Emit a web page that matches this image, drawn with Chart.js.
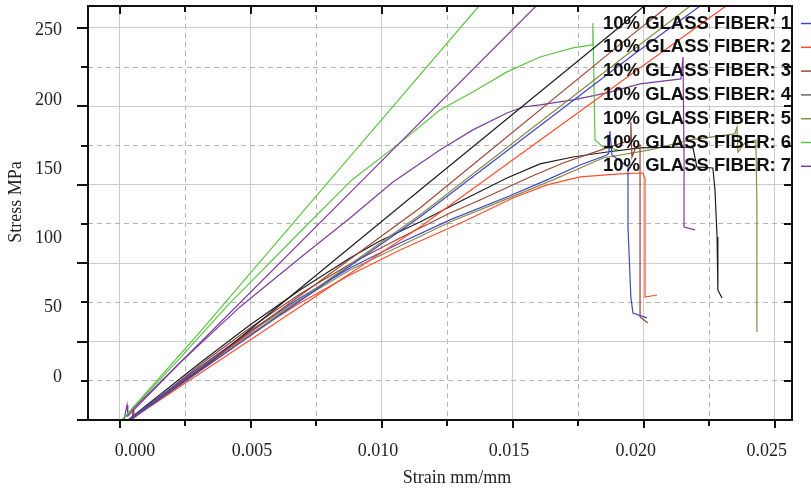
<!DOCTYPE html>
<html>
<head>
<meta charset="utf-8">
<script src="https://cdn.jsdelivr.net/npm/chart.js@4.4.1/dist/chart.umd.min.js"></script>
<style>
  html, body { margin: 0; padding: 0; background: #fff; }
  #wrap { width: 811px; height: 492px; }
</style>
</head>
<body>
<div id="wrap"><canvas id="chart" width="811" height="492"></canvas></div>
<script>
'use strict';

let seriesNames = [
  '10% GLASS FIBER: 1', '10% GLASS FIBER: 2', '10% GLASS FIBER: 3', '10% GLASS FIBER: 4',
  '10% GLASS FIBER: 5', '10% GLASS FIBER: 6', '10% GLASS FIBER: 7'
];
let seriesColors = ['#3c48c8', '#ff4d2e', '#9a4636', '#1e1e1e', '#8a8a44', '#5cc444', '#7e3c9e'];
let legendColors = ['#3c48c8', '#ff4d2e', '#9a4636', '#666666', '#8a8a44', '#5cc444', '#7e3c9e'];

// measured curves, [strain, stress]
let curve1 = [[0.00031,0],[0.00305,33.8],[0.00496,56.8],[0.00687,77.8],[0.00878,96.9],[0.01069,112.9],[0.0126,127.6],[0.01477,142.2],[0.0163,153.1],[0.01756,162.6],[0.01859,169.0],[0.01866,170.3],[0.0187,184.3],[0.01878,169.0],[0.01939,161.4],[0.01939,123.1],[0.0195,78.4],[0.01958,68.2],[0.02011,65.1]];
let curve2 = [[0.00031,0],[0.00305,32.5],[0.00496,54.9],[0.00687,74.6],[0.00878,92.5],[0.01069,108.4],[0.01309,126.3],[0.015,141.6],[0.0163,149.9],[0.01756,155.0],[0.01908,156.9],[0.01996,157.5],[0.02004,154.3],[0.02004,78.4],[0.0205,79.7]];
let curve3 = [[0.00046,0],[0.0005,6.4],[0.00053,1.3],[0.00305,35.1],[0.00496,58.7],[0.00687,80.4],[0.00878,99.5],[0.01069,116.1],[0.0126,132.0],[0.01374,140.3],[0.01565,155.0],[0.01691,163.9],[0.01859,173.5],[0.01927,177.3],[0.01947,177.9],[0.0195,190.1],[0.01954,167.7],[0.01969,174.1],[0.01985,175.4],[0.01985,65.7],[0.02015,61.9]];
let curve4 = [[0.00031,0],[0.00305,36.4],[0.00496,60.6],[0.00687,82.9],[0.00878,103.3],[0.00992,114.2],[0.01145,126.3],[0.01309,140.3],[0.01477,154.3],[0.01603,163.3],[0.01729,167.7],[0.01859,170.9],[0.01985,173.5],[0.02149,174.1],[0.02187,173.5],[0.02202,161.4],[0.02263,160.7],[0.02271,146.7],[0.02279,116.7],[0.02282,82.9],[0.02298,77.8]];
let curve5 = [[0.00038,0],[0.00305,33.2],[0.00496,56.1],[0.00687,76.5],[0.00878,95.7],[0.01069,111.0],[0.0126,126.3],[0.01477,141.0],[0.01653,153.1],[0.01844,167.1],[0.02023,172.2],[0.02176,178.6],[0.02347,182.4],[0.02355,186.9],[0.02359,170.9],[0.02385,176.7],[0.02427,178.6],[0.02431,140.3],[0.02431,56.1]];
let curve6 = [[0.00008,0],[0.00229,39.5],[0.00412,73.3],[0.00496,87.4],[0.00687,119.9],[0.00885,153.1],[0.01069,176.7],[0.01221,197.7],[0.01347,209.2],[0.01477,222.0],[0.01603,231.5],[0.01729,237.3],[0.01802,239.2],[0.01805,253.2],[0.01813,178.6],[0.01844,174.1],[0.01901,172.2]];
let curve7 = [[0.00015,0],[0.00027,9.6],[0.0003,2.5],[0.00229,36.4],[0.00458,72.1],[0.00687,103.3],[0.00878,128.8],[0.01042,151.8],[0.01221,172.2],[0.01347,185.0],[0.01477,195.8],[0.01538,199.6],[0.01603,200.9],[0.01729,204.1],[0.01859,208.6],[0.01985,214.3],[0.02141,217.5],[0.02149,231.5],[0.02153,165.8],[0.02153,123.1],[0.02195,121.2]];

// modulus lines
let fit1 = [[0.00038,0],[0.01145,129.5],[0.01958,232.8],[0.02214,264]];
let fit2 = [[0.00038,0],[0.01145,123.1],[0.01958,221.3],[0.02313,264]];
let fit3 = [[0.00038,0],[0.01145,135.2],[0.01916,240.5],[0.02092,264]];
let fit4 = [[0.00038,0],[0.00355,38.3],[0.01145,146.7],[0.01916,251.9],[0.02,264]];
let fit5 = [[0.00038,0],[0.01145,130.7],[0.01958,236.0],[0.02176,264]];
let fit6 = [[0.00008,0],[0.00305,56.1],[0.00802,153.1],[0.0137,264]];
let fit7 = [[0.00008,0],[0.00305,49.1],[0.00927,153.1],[0.01588,264]];

let curves = [curve1, curve2, curve3, curve4, curve5, curve6, curve7];
let fits = [fit1, fit2, fit3, fit4, fit5, fit6, fit7];

let xGridValues = [0, 0.0025, 0.005, 0.0075, 0.01, 0.0125, 0.015, 0.0175, 0.02, 0.0225, 0.025];
let yGridValues = [0, 25, 50, 75, 100, 125, 150, 175, 200, 225, 250];
let xTickLabels = ['0.000', '0.005', '0.010', '0.015', '0.020', '0.025'];
let xTickAt = [0.00057, 0.00504, 0.00985, 0.01485, 0.01969, 0.02469];
let yTickLabels = [0, 50, 100, 150, 200, 250];

function toPoints(arr) {
  return arr.map(p => ({x: p[0], y: p[1]}));
}

let datasets = [];
for (let i = 0; i < curves.length; i++) {
  datasets.push({
    label: seriesNames[i],
    data: toPoints(fits[i]),
    borderColor: seriesColors[i],
    borderWidth: 1.2,
    pointRadius: 0,
    tension: 0,
    xAxisID: 'x',
    yAxisID: 'y'
  });
}
for (let i = 0; i < curves.length; i++) {
  datasets.push({
    label: seriesNames[i],
    data: toPoints(curves[i]),
    borderColor: seriesColors[i],
    borderWidth: 1.2,
    pointRadius: 0,
    tension: 0,
    xAxisID: 'x',
    yAxisID: 'y'
  });
}

let serif = '"Liberation Serif", "Times New Roman", serif';

// labels sit off the grid in the original, so no extra padding from them
function noPadding(scale) {
  scale.paddingTop = 0;
  scale.paddingBottom = 0;
  scale.paddingLeft = 0;
  scale.paddingRight = 0;
}

let framePlugin = {
  id: 'frame',
  afterDraw(chart) {
    let ctx = chart.ctx;
    let a = chart.chartArea;
    let xs = chart.scales.x;
    let ys = chart.scales.y;
    ctx.save();
    ctx.strokeStyle = '#111';
    ctx.lineWidth = 2;
    ctx.strokeRect(a.left, a.top, a.right - a.left, a.bottom - a.top);
    ctx.beginPath();
    xGridValues.forEach((v, i) => {
      let px = Math.round(xs.getPixelForValue(v));
      let len = i % 2 ? 6 : 8;
      ctx.moveTo(px, a.bottom);
      ctx.lineTo(px, a.bottom + len);
      ctx.moveTo(px, a.top);
      ctx.lineTo(px, a.top + len);
    });
    yGridValues.forEach((v, i) => {
      let py = Math.round(ys.getPixelForValue(v));
      ctx.moveTo(a.left - (i % 2 ? 7 : 11), py);
      ctx.lineTo(a.left, py);
      ctx.moveTo(a.right - 8, py);
      ctx.lineTo(a.right, py);
    });
    ctx.stroke();

    // axis titles
    ctx.fillStyle = '#222';
    ctx.font = '18px ' + serif;
    ctx.textAlign = 'center';
    ctx.textBaseline = 'middle';
    ctx.fillText('Strain mm/mm', 457, 478);
    ctx.save();
    ctx.translate(16, 202);
    ctx.rotate(-Math.PI / 2);
    ctx.fillText('Stress MPa', 0, 0);
    ctx.restore();

    // legend
    ctx.font = 'bold 18.5px "Liberation Sans", Arial, sans-serif';
    ctx.textAlign = 'left';
    seriesNames.forEach((name, i) => {
      let y = 23.5 + i * 23.8;
      ctx.fillStyle = '#111';
      ctx.fillText(name, 603, y);
      ctx.strokeStyle = legendColors[i];
      ctx.lineWidth = 1.5;
      ctx.beginPath();
      ctx.moveTo(801, y);
      ctx.lineTo(811, y);
      ctx.stroke();
    });
    ctx.restore();
  }
};

let ctx = document.getElementById('chart').getContext('2d');
let myChart = new Chart(ctx, {
  type: 'line',
  data: { datasets: datasets },
  options: {
    responsive: false,
    maintainAspectRatio: false,
    animation: false,
    layout: { padding: { left: 0, right: 19, top: 6, bottom: 0 } },
    plugins: {
      legend: { display: false },
      tooltip: { enabled: false }
    },
    scales: {
      x: {
        type: 'linear',
        position: 'bottom',
        weight: 0,
        min: -0.00122,
        max: 0.02565,
        afterBuildTicks: (scale) => { scale.ticks = xGridValues.map(v => ({value: v})); },
        afterFit: (scale) => { scale.height = 0; noPadding(scale); },
        ticks: { display: false },
        grid: {
          drawTicks: false,
          color: (c) => c.index % 2 ? '#b4b4b4' : '#cbcbcb',
          lineWidth: 1
        },
        border: { display: false, dash: (c) => c.index % 2 ? [5, 4] : [] }
      },
      y: {
        type: 'linear',
        position: 'left',
        weight: 0,
        min: 0,
        max: 264,
        afterBuildTicks: (scale) => { scale.ticks = yGridValues.map(v => ({value: v})); },
        afterFit: (scale) => { scale.width = 0; noPadding(scale); },
        ticks: { display: false },
        grid: {
          drawTicks: false,
          color: (c) => c.index % 2 ? '#b4b4b4' : '#cbcbcb',
          lineWidth: 1
        },
        border: { display: false, dash: (c) => c.index % 2 ? [5, 4] : [] }
      },
      xl: {
        type: 'linear',
        position: 'bottom',
        weight: 10,
        min: -0.00122,
        max: 0.02565,
        afterBuildTicks: (scale) => { scale.ticks = xTickAt.map(v => ({value: v})); },
        afterFit: (scale) => { scale.height = 72; noPadding(scale); },
        grid: { display: false, drawTicks: false },
        border: { display: false },
        ticks: {
          autoSkip: false,
          maxRotation: 0,
          padding: 20,
          color: '#222',
          font: { family: serif, size: 18 },
          callback: (value, index) => xTickLabels[index]
        }
      },
      yl: {
        type: 'linear',
        position: 'left',
        weight: 10,
        min: -31.04,
        max: 267.83,
        afterBuildTicks: (scale) => { scale.ticks = yTickLabels.map(v => ({value: v})); },
        afterFit: (scale) => { scale.width = 88; noPadding(scale); },
        grid: { display: false, drawTicks: false },
        border: { display: false },
        ticks: {
          autoSkip: false,
          padding: 26,
          color: '#222',
          font: { family: serif, size: 18 },
          callback: (value) => String(value)
        }
      }
    }
  },
  plugins: [framePlugin]
});
</script>
</body>
</html>
